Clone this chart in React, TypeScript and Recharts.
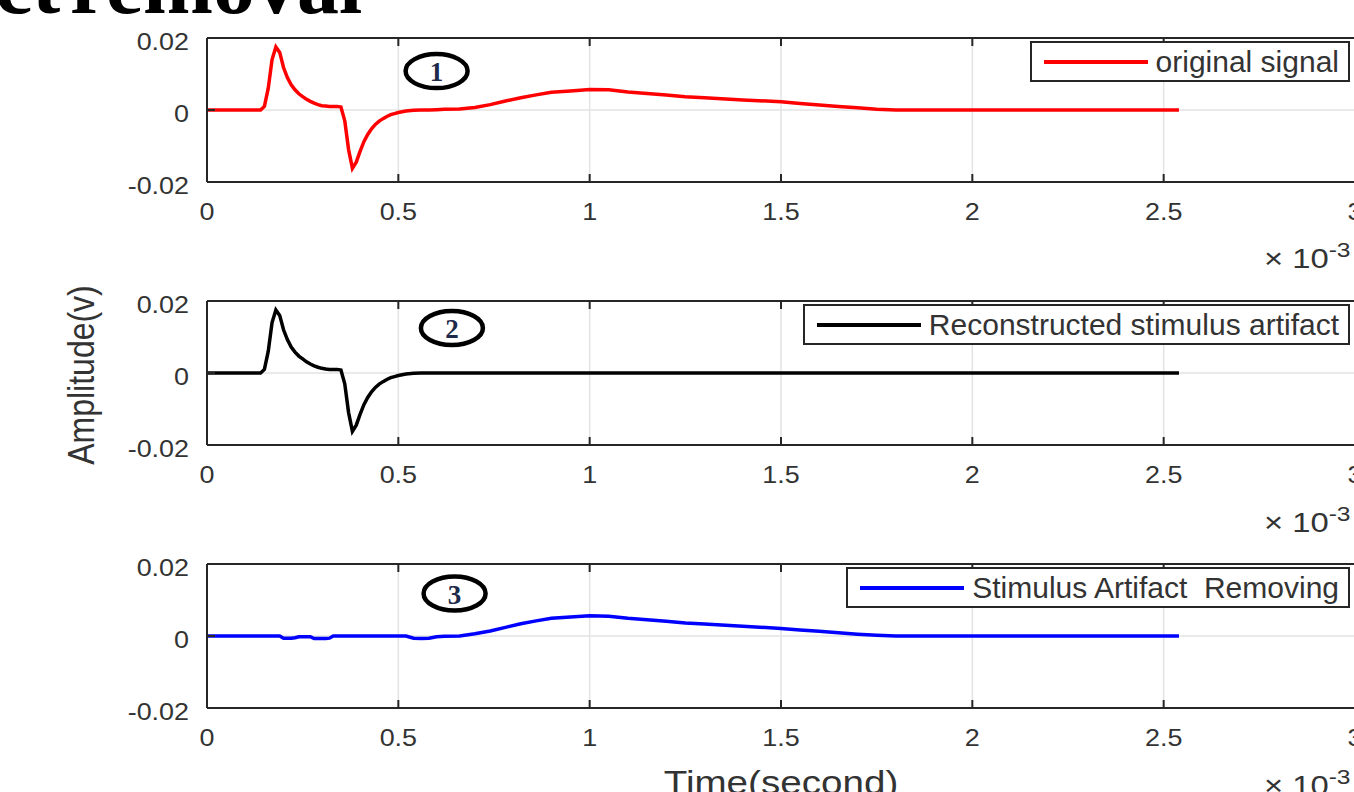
import React from "react";
import { LineChart, Line, XAxis, YAxis, CartesianGrid, ReferenceDot, Legend } from "recharts";

// time axis in ms (plotted with a x10^-3 multiplier)
const timeMs = [
  0, 0.14, 0.15, 0.16, 0.17, 0.18, 0.19, 0.2, 0.21, 0.22,
  0.23, 0.24, 0.25, 0.26, 0.27, 0.28, 0.29, 0.3, 0.31, 0.32,
  0.33, 0.34, 0.35, 0.36, 0.37, 0.38, 0.39, 0.4, 0.41, 0.42,
  0.43, 0.44, 0.45, 0.46, 0.47, 0.48, 0.49, 0.5, 0.52, 0.54,
  0.56, 0.58, 0.6, 0.62, 0.66, 0.7, 0.74, 0.78, 0.82, 0.86,
  0.9, 0.95, 1.0, 1.05, 1.1, 1.15, 1.2, 1.25, 1.3, 1.4,
  1.5, 1.55, 1.6, 1.65, 1.7, 1.75, 1.8, 2.0, 2.54,
];

const originalSignal = [
  0, 0, 0.001, 0.006, 0.014, 0.0175, 0.016, 0.0118, 0.009, 0.007,
  0.0056, 0.0045, 0.0037, 0.003, 0.0024, 0.0019, 0.0015, 0.0012, 0.0011, 0.001,
  0.001, 0.001, 0.0008, -0.003, -0.011, -0.0162, -0.0145, -0.0115, -0.0088, -0.0068,
  -0.0052, -0.004, -0.0031, -0.0024, -0.0018, -0.0013, -0.001, -0.0007, -0.0003, -0.0001,
  0, 0, 0.0001, 0.0002, 0.0003, 0.0007, 0.0015, 0.0025, 0.0034, 0.0042,
  0.0049, 0.0053, 0.0057, 0.0056, 0.005, 0.0046, 0.0042, 0.0037, 0.0034, 0.0028,
  0.0023, 0.0018, 0.0014, 0.001, 0.0006, 0.0002, 0, 0, 0,
];

const artifactSignal = [
  0, 0, 0.001, 0.006, 0.014, 0.0175, 0.016, 0.012, 0.0093, 0.0072,
  0.0058, 0.0047, 0.0039, 0.0031, 0.0025, 0.002, 0.0016, 0.0013, 0.0011, 0.001,
  0.001, 0.001, 0.0008, -0.003, -0.011, -0.0162, -0.0145, -0.0115, -0.0088, -0.0068,
  -0.0052, -0.004, -0.0031, -0.0024, -0.0018, -0.0013, -0.001, -0.0007, -0.0003, -0.0001,
  0, 0, 0, 0, 0, 0, 0, 0, 0, 0,
  0, 0, 0, 0, 0, 0, 0, 0, 0, 0,
  0, 0, 0, 0, 0, 0, 0, 0, 0,
];

const cleanedSignal = [
  0, 0, 0, 0, 0, 0, 0, -0.0006, -0.0006, -0.0006,
  -0.0005, -0.0002, -0.0002, -0.0002, -0.0002, -0.0007, -0.0007, -0.0007, -0.0007, -0.0006,
  0, 0, 0, 0, 0, 0, 0, 0, 0, 0,
  0, 0, 0, 0, 0, 0, 0, 0, 0, -0.0006,
  -0.0007, -0.0006, -0.0002, -0.0001, 0, 0.0006, 0.0014, 0.0024, 0.0034, 0.0042,
  0.0049, 0.0053, 0.0056, 0.0055, 0.0049, 0.0045, 0.0041, 0.0036, 0.0033, 0.0027,
  0.0021, 0.0017, 0.0013, 0.0009, 0.0005, 0.0002, 0, 0, 0,
];

const xTicks = [0, 0.5, 1, 1.5, 2, 2.5, 3];
const yTicks = [-0.02, 0, 0.02];

// circled panel numbers, in data coordinates
const markLabels = ["1", "2", "3"];
const markX = [0.6, 0.64, 0.647];
const markY = [0.0108, 0.0125, 0.0118];

const rows = timeMs.map((t, i) => ({
  t,
  original: originalSignal[i],
  artifact: artifactSignal[i],
  cleaned: cleanedSignal[i],
}));

const FONT = '"Liberation Sans", Arial, sans-serif';
const SERIF = '"Liberation Serif", "Times New Roman", serif';
const INK = "#262626";
const TXT = "#333";
const SX = 1.17; // the figure is stretched a bit horizontally

function BottomTick({ x, y, payload }: any) {
  return (
    <g>
      <line x1={x} y1={y} x2={x} y2={y - 8} stroke={INK} strokeWidth={2} />
      <text
        transform={`translate(${x},${y + 30}) scale(${SX},1)`}
        textAnchor="middle"
        dominantBaseline="central"
        fontFamily={FONT}
        fontSize={23}
        fill={TXT}
      >
        {payload.value}
      </text>
    </g>
  );
}

function TopTick({ x, y }: any) {
  return <line x1={x} y1={y} x2={x} y2={y + 8} stroke={INK} strokeWidth={2} />;
}

function LeftTick({ x, y, payload }: any) {
  return (
    <g>
      <line x1={x} y1={y} x2={x + 8} y2={y} stroke={INK} strokeWidth={2} />
      <text
        transform={`translate(${x - 18},${y + 4}) scale(${SX},1)`}
        textAnchor="end"
        dominantBaseline="central"
        fontFamily={FONT}
        fontSize={23}
        fill={TXT}
      >
        {payload.value}
      </text>
    </g>
  );
}

function RightTick({ x, y }: any) {
  return <line x1={x} y1={y} x2={x - 8} y2={y} stroke={INK} strokeWidth={2} />;
}

function LegendBox({ payload }: any) {
  const item = payload && payload[0];
  if (!item) return null;
  return (
    <div
      style={{
        display: "flex",
        alignItems: "center",
        height: 41,
        boxSizing: "border-box",
        border: `2px solid ${INK}`,
        background: "#fff",
        padding: "0 9px 0 12px",
        whiteSpace: "pre",
      }}
    >
      <div style={{ width: 104, height: 4, background: item.color, marginRight: 8 }} />
      <span style={{ fontFamily: FONT, fontSize: 30, color: TXT, lineHeight: 1 }}>{item.value}</span>
    </div>
  );
}

function CircledMark({ cx, cy, label }: any) {
  return (
    <g>
      <ellipse cx={cx} cy={cy} rx={31} ry={17} fill="none" stroke="#000" strokeWidth={4.5} />
      <text
        x={cx}
        y={cy + 1}
        textAnchor="middle"
        dominantBaseline="central"
        fontFamily={SERIF}
        fontWeight="bold"
        fontSize={27}
        fill="#1e2a4a"
      >
        {label}
      </text>
    </g>
  );
}

function Panel({ top, dataKey, color, name, idx }: any) {
  const axisLine = { stroke: INK, strokeWidth: 2 };
  return (
    <div style={{ position: "absolute", left: 0, top }}>
      <LineChart width={1400} height={242} data={rows} margin={{ top: 37, right: 44, left: 0, bottom: 0 }}>
        <CartesianGrid stroke="#e3e3e3" strokeWidth={1.5} />
        <XAxis
          dataKey="t"
          type="number"
          domain={[0, 3]}
          ticks={xTicks}
          interval={0}
          height={60}
          tickSize={0}
          tickMargin={0}
          tickLine={false}
          axisLine={axisLine}
          tick={<BottomTick />}
        />
        <XAxis
          xAxisId="top"
          orientation="top"
          dataKey="t"
          type="number"
          domain={[0, 3]}
          ticks={xTicks}
          interval={0}
          height={1}
          tickSize={0}
          tickMargin={0}
          tickLine={false}
          axisLine={axisLine}
          tick={<TopTick />}
        />
        <YAxis
          type="number"
          domain={[-0.02, 0.02]}
          ticks={yTicks}
          interval={0}
          width={207}
          tickSize={0}
          tickMargin={0}
          tickLine={false}
          axisLine={axisLine}
          tick={<LeftTick />}
        />
        <YAxis
          yAxisId="right"
          orientation="right"
          type="number"
          domain={[-0.02, 0.02]}
          ticks={yTicks}
          interval={0}
          width={1}
          tickSize={0}
          tickMargin={0}
          tickLine={false}
          axisLine={axisLine}
          tick={<RightTick />}
        />
        <Legend
          layout="vertical"
          align="center"
          verticalAlign="middle"
          wrapperStyle={{ top: 41, right: 50, left: "auto", width: "auto" }}
          content={<LegendBox />}
        />
        <ReferenceDot
          x={markX[idx]}
          y={markY[idx]}
          shape={(p: any) => <CircledMark cx={p.cx} cy={p.cy} label={markLabels[idx]} />}
        />
        <Line
          type="linear"
          dataKey={dataKey}
          name={name}
          stroke={color}
          strokeWidth={3.5}
          dot={false}
          isAnimationActive={false}
        />
      </LineChart>
    </div>
  );
}

function Multiplier({ y }: { y: number }) {
  return (
    <text transform={`translate(1264,${y}) scale(${SX},1)`} fontFamily={FONT} fontSize={28} fill={TXT}>
      {"× 10"}
      <tspan dy={-11} fontSize={21}>
        -3
      </tspan>
    </text>
  );
}

export default function App() {
  return (
    <div
      style={{
        position: "fixed",
        left: 0,
        top: 0,
        width: 1354,
        height: 792,
        overflow: "hidden",
        background: "#fff",
      }}
    >
      <Panel top={0} dataKey="original" color="#ff0000" name="original signal" idx={0} />
      <Panel top={263} dataKey="artifact" color="#000000" name="Reconstructed stimulus artifact" idx={1} />
      <Panel top={526} dataKey="cleaned" color="#0000ff" name="Stimulus Artifact  Removing" idx={2} />

      <svg width={1354} height={792} style={{ position: "absolute", left: 0, top: 0, pointerEvents: "none" }}>
        {/* title, cut off by the top of the picture */}
        <text y={12.5} fontFamily={SERIF} fontWeight="bold" fontSize={84} fill="#000">
          <tspan x={-5}>ct</tspan>
          <tspan x={70}>removal</tspan>
        </text>
        <text
          transform={`translate(81,375) scale(${SX},1) rotate(-90)`}
          textAnchor="middle"
          dominantBaseline="central"
          fontFamily={FONT}
          fontSize={32}
          fill={TXT}
        >
          Amplitude(v)
        </text>
        <text
          transform={`translate(781,794) scale(${SX},1)`}
          textAnchor="middle"
          fontFamily={FONT}
          fontSize={33}
          fill={TXT}
        >
          Time(second)
        </text>
        <Multiplier y={268} />
        <Multiplier y={532} />
        <Multiplier y={795} />
      </svg>
    </div>
  );
}
